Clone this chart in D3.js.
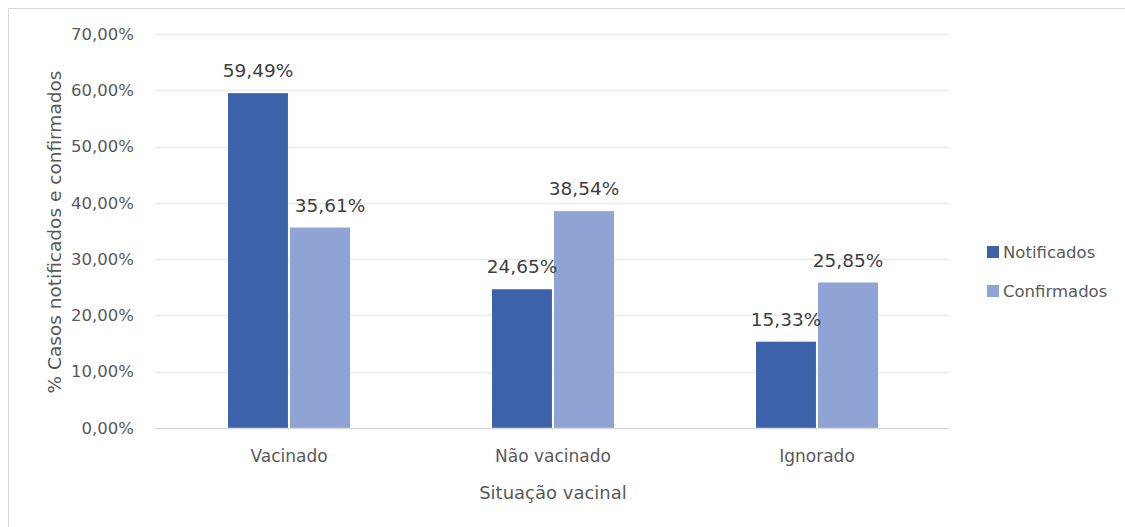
<!DOCTYPE html>
<html>
<head>
<meta charset="utf-8">
<script src="https://cdn.jsdelivr.net/npm/d3@7/dist/d3.min.js"></script>
<style>
  html, body { margin: 0; padding: 0; background: #fff; }
  svg { display: block; }
  text { font-family: "DejaVu Sans", sans-serif; }
</style>
</head>
<body>
<svg id="chart" width="1125" height="527"></svg>
<script>
const categories = ["Vacinado", "Não vacinado", "Ignorado"];
const seriesNames = ["Notificados", "Confirmados"];
const notificados = [59.49, 24.65, 15.33];
const confirmados = [35.61, 38.54, 25.85];
const yTicks = [0, 10, 20, 30, 40, 50, 60, 70];
const colors = ["#3C63AA", "#8FA3D4"];

const svg = d3.select("#chart");

// outer frame
svg.append("rect")
  .attr("x", 8.5).attr("y", 8.5)
  .attr("width", 1300).attr("height", 700)
  .attr("fill", "#fff").attr("stroke", "#D9D9D9").attr("stroke-width", 1);

const plot = { left: 157, right: 949, top: 34, bottom: 428 };

const x = d3.scaleBand()
  .domain(categories)
  .range([plot.left, plot.right])
  .paddingInner(0.538)
  .paddingOuter(0.269);

const xs = d3.scaleBand()
  .domain(seriesNames)
  .range([0, x.bandwidth()])
  .paddingInner(0.033);

const y = d3.scaleLinear().domain([0, 70]).range([plot.bottom, plot.top]);

const fmt = v => d3.format(".2f")(v).replace(".", ",") + "%";

// gridlines
svg.append("g")
  .selectAll("line")
  .data(yTicks.filter(t => t > 0))
  .join("line")
  .attr("x1", 155).attr("x2", plot.right)
  .attr("y1", d => Math.round(y(d)) + 0.5).attr("y2", d => Math.round(y(d)) + 0.5)
  .attr("stroke", "#EBEBEB").attr("stroke-width", 1.5);

// y axis labels
const yAxis = d3.axisLeft(y).tickValues(yTicks).tickFormat(fmt).tickSize(0).tickPadding(0);
const gy = svg.append("g").attr("transform", "translate(134,0)").call(yAxis);
gy.select(".domain").remove();
gy.selectAll("text")
  .attr("fill", "#595959")
  .style("font-size", "16.5px")
  .style("font-family", "DejaVu Sans, sans-serif");

// bars
const rows = categories.map((c, i) => ({ cat: c, ci: i, vals: [notificados[i], confirmados[i]] }));
const groups = svg.append("g").selectAll("g")
  .data(rows).join("g")
  .attr("transform", d => `translate(${x(d.cat)},0)`);

groups.selectAll("rect")
  .data(d => d.vals.map((v, j) => ({ s: seriesNames[j], v, j, ci: d.ci })))
  .join("rect")
  .attr("x", d => xs(d.s))
  .attr("y", d => y(d.v))
  .attr("width", xs.bandwidth())
  .attr("height", d => y(0) - y(d.v))
  .attr("fill", d => colors[d.j]);

groups.selectAll("text.lbl")
  .data(d => d.vals.map((v, j) => ({ s: seriesNames[j], v, j, ci: d.ci })))
  .join("text")
  .attr("class", "lbl")
  .attr("x", d => xs(d.s) + xs.bandwidth() / 2 + (d.ci === 0 && d.j === 1 ? 10 : 0))
  .attr("y", d => y(d.v) - 16)
  .attr("text-anchor", "middle")
  .attr("fill", "#404040")
  .style("font-size", "18.5px")
  .text(d => fmt(d.v));

// baseline
svg.append("line")
  .attr("x1", 155).attr("x2", plot.right)
  .attr("y1", plot.bottom + 0.5).attr("y2", plot.bottom + 0.5)
  .attr("stroke", "#D9D9D9").attr("stroke-width", 1.5);

// x axis labels
const xAxis = d3.axisBottom(x).tickSize(0).tickPadding(0);
const gx = svg.append("g").attr("transform", "translate(0,462)").call(xAxis);
gx.select(".domain").remove();
gx.selectAll("text")
  .attr("dy", 0)
  .attr("fill", "#595959")
  .style("font-size", "17px")
  .style("font-family", "DejaVu Sans, sans-serif");

// axis titles
svg.append("text")
  .attr("x", (plot.left + plot.right) / 2).attr("y", 499)
  .attr("text-anchor", "middle")
  .attr("fill", "#595959")
  .style("font-size", "18px")
  .text("Situação vacinal");

svg.append("text")
  .attr("transform", "translate(61,232) rotate(-90)")
  .attr("text-anchor", "middle")
  .attr("fill", "#595959")
  .style("font-size", "18.5px")
  .text("% Casos notificados e confirmados");

// legend
const legend = svg.append("g").selectAll("g")
  .data(seriesNames).join("g")
  .attr("transform", (d, i) => `translate(987,${246 + i * 39})`);
legend.append("rect")
  .attr("width", 12).attr("height", 12)
  .attr("fill", (d, i) => colors[i]);
legend.append("text")
  .attr("x", 16).attr("y", 11.5)
  .attr("fill", "#595959")
  .style("font-size", "16.5px")
  .text(d => d);
</script>
</body>
</html>
